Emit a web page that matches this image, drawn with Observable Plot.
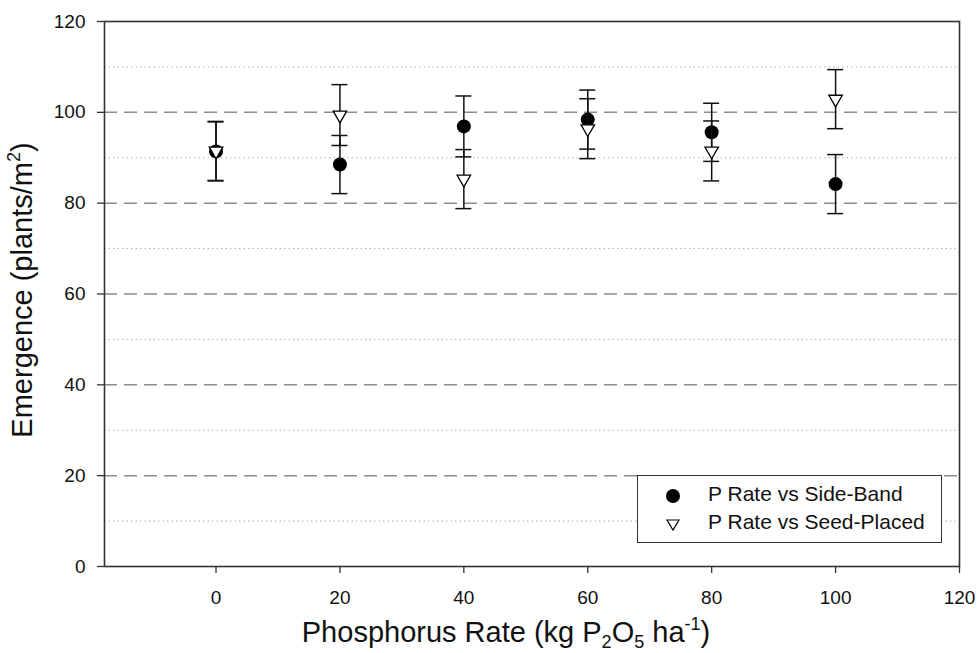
<!DOCTYPE html>
<html><head><meta charset="utf-8">
<script src="https://cdn.jsdelivr.net/npm/d3@7"></script>
<script src="https://cdn.jsdelivr.net/npm/@observablehq/plot@0.6"></script>
<style>
body{margin:0;background:#fff;font-family:Arial,"Liberation Sans",sans-serif;}
#wrap{position:relative;width:978px;height:653px;}
#legend{position:absolute;left:637px;top:475px;width:305px;height:68px;border:1.5px solid #333;background:#fff;box-sizing:border-box;font-size:21px;color:#111;}
#legend svg{position:absolute;left:25px;}
#legend span{position:absolute;left:70px;white-space:nowrap;}
</style></head><body><div id="wrap"></div>
<script>
// ---- data ----
const rates = [0, 20, 40, 60, 80, 100];
const sideBand = [91.4, 88.5, 96.9, 98.4, 95.6, 84.2];
const sideBandErr = [6.5, 6.4, 6.7, 6.5, 6.4, 6.5];
const seedPlaced = [91.5, 99.4, 85.3, 96.4, 91.5, 102.9];
const seedPlacedErr = [6.5, 6.7, 6.5, 6.6, 6.6, 6.5];
const xTicks = [0, 20, 40, 60, 80, 100, 120];
const yTicks = [0, 20, 40, 60, 80, 100, 120];
const majorGrid = [20, 40, 60, 80, 100];
const minorGrid = [10, 30, 50, 70, 90, 110];
const seriesNames = ["P Rate vs Side-Band", "P Rate vs Seed-Placed"];

const sb = rates.map((x, i) => ({x, y: sideBand[i], e: sideBandErr[i]}));
const sp = rates.map((x, i) => ({x, y: seedPlaced[i], e: seedPlacedErr[i]}));
const caps = s => s.flatMap(d => [{x: d.x, y: d.y + d.e}, {x: d.x, y: d.y - d.e}]);

const ink = "#111";
const font = "Arial, 'Liberation Sans', sans-serif";
const chart = Plot.plot({
  width: 978, height: 653,
  marginLeft: 104, marginRight: 19, marginTop: 21, marginBottom: 87,
  style: {fontFamily: font, fontSize: "19px", color: ink, background: "white"},
  x: {domain: [-18, 120]},
  y: {domain: [0, 120]},
  marks: [
    Plot.ruleY(minorGrid, {stroke: "#b0b0b0", strokeDasharray: "1.5,3", strokeWidth: 1}),
    Plot.ruleY(majorGrid, {stroke: "#8c8c8c", strokeDasharray: "13,7", strokeWidth: 1.5}),
    Plot.axisX({ticks: xTicks, tickSize: 7, tickPadding: 17, label: null, stroke: "#333", strokeWidth: 1.3, fill: ink}),
    Plot.axisY({ticks: yTicks, tickSize: 7, tickPadding: 12, label: null, stroke: "#333", strokeWidth: 1.3, fill: ink}),
    Plot.frame({stroke: "#333", strokeWidth: 1.6}),
    // side-band series
    Plot.ruleX(sb, {x: "x", y1: d => d.y - d.e, y2: d => d.y + d.e, stroke: ink, strokeWidth: 1.5}),
    Plot.ruleY(caps(sb), {x1: "x", x2: "x", y: "y", insetLeft: -8, insetRight: -8, stroke: ink, strokeWidth: 1.5}),
    Plot.dot(sb, {x: "x", y: "y", r: 7, fill: "#000", stroke: "none"}),
    // seed-placed series
    Plot.ruleX(sp, {x: "x", y1: d => d.y - d.e, y2: d => d.y + d.e, stroke: ink, strokeWidth: 1.5}),
    Plot.ruleY(caps(sp), {x1: "x", x2: "x", y: "y", insetLeft: -8, insetRight: -8, stroke: ink, strokeWidth: 1.5}),
    Plot.dot(sp, {x: "x", y: "y", symbol: "triangle", r: 5, rotate: 180, fill: "white", stroke: "#000", strokeWidth: 1.3})
  ]
});

const svg = d3.select(chart);
// y-axis title
const yt = svg.append("text")
  .attr("transform", "translate(32,290) rotate(-90)")
  .attr("text-anchor", "middle")
  .style("font-size", "29px").attr("fill", ink)
  .style("font-family", font);
yt.append("tspan").text("Emergence (plants/m");
yt.append("tspan").style("font-size", "18px").attr("dy", -12).text("2");
yt.append("tspan").attr("dy", 12).text(")");
// x-axis title
const xt = svg.append("text")
  .attr("x", 506).attr("y", 642)
  .attr("text-anchor", "middle")
  .style("font-size", "29px").attr("fill", ink)
  .style("font-family", font);
xt.append("tspan").text("Phosphorus Rate (kg P");
xt.append("tspan").style("font-size", "18px").attr("dy", 6).text("2");
xt.append("tspan").attr("dy", -6).text("O");
xt.append("tspan").style("font-size", "18px").attr("dy", 6).text("5");
xt.append("tspan").attr("dy", -6).text(" ha");
xt.append("tspan").style("font-size", "18px").attr("dy", -12).text("-1");
xt.append("tspan").attr("dy", 12).text(")");

const wrap = document.getElementById("wrap");
wrap.appendChild(chart);

// legend
const lg = document.createElement("div");
lg.id = "legend";
lg.innerHTML = `
  <svg width="20" height="20" style="top:10px"><circle cx="10" cy="10" r="7" fill="#000"/></svg>
  <span style="top:6px">${seriesNames[0]}</span>
  <svg width="20" height="20" style="top:38px"><path d="M4,6 L16,6 L10,16 Z" fill="#fff" stroke="#000" stroke-width="1.2"/></svg>
  <span style="top:34px">${seriesNames[1]}</span>`;
wrap.appendChild(lg);
</script>
</body></html>
